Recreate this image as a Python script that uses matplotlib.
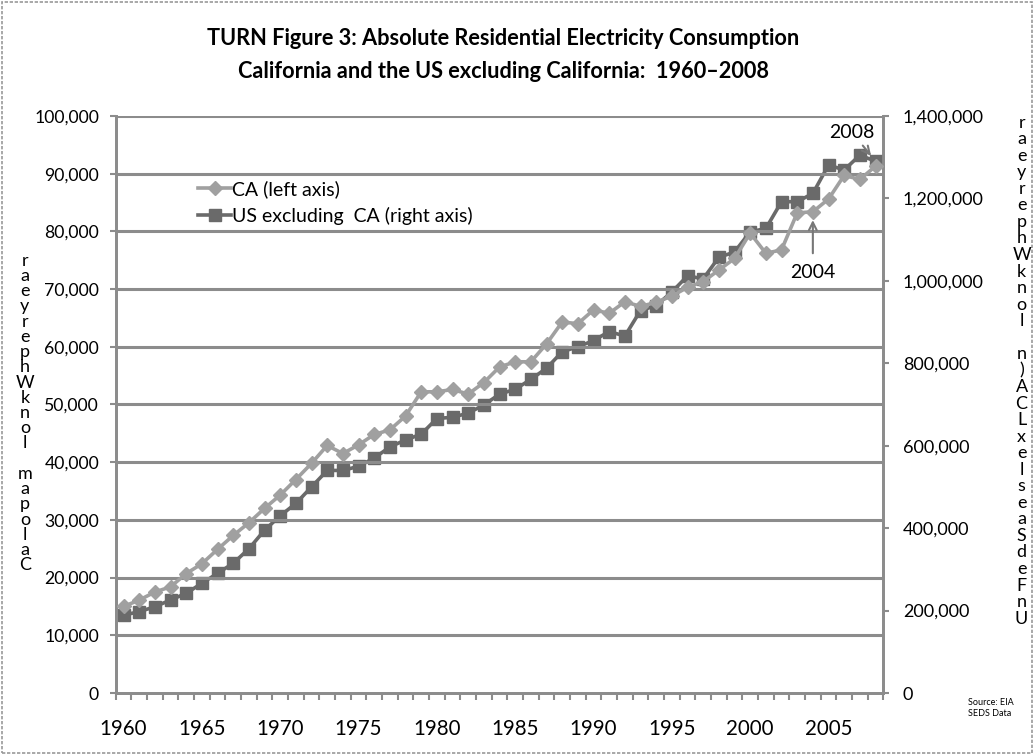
import numpy as np
import matplotlib
matplotlib.use("Agg")
import matplotlib.pyplot as plt
from matplotlib.lines import Line2D
from matplotlib.patches import Rectangle

# DATA
years = list(range(1960, 2009))
ca_gwh = [15000, 16100, 17500, 18400, 20700, 22400, 24900, 27300, 29500, 32000,
          34300, 37000, 39800, 42900, 41500, 43000, 44800, 45600, 48000, 52200,
          52200, 52600, 51800, 53800, 56500, 57400, 57400, 60500, 64300, 64000,
          66400, 65800, 67800, 67000, 67700, 68800, 70300, 71300, 73300, 75300,
          79700, 76200, 76800, 83200, 83400, 85600, 89700, 89000, 91300]
us_ex_ca = [189000, 197300, 209400, 225600, 241900, 266200, 290400, 314700, 350000, 395000,
            430000, 460000, 500000, 540000, 540000, 550000, 570000, 597000, 614000, 628000,
            666000, 669000, 679000, 699000, 725000, 737000, 761000, 788000, 828000, 840000,
            855000, 877000, 866000, 928000, 940000, 973000, 1012000, 1005000, 1057000, 1070000,
            1119000, 1127000, 1192000, 1192000, 1212000, 1281000, 1269000, 1305000, 1290000]
xtick_years = [1960, 1965, 1970, 1975, 1980, 1985, 1990, 1995, 2000, 2005]
left_ticks = list(range(0, 100001, 10000))
right_ticks = list(range(0, 1400001, 200000))

TITLE = ("TURN Figure 3: Absolute Residential Electricity Consumption\n"
         "California and the US excluding California:  1960\u20132008")
LEFT_STACK = "raeyrephWknol mapolaC"
RIGHT_STACK = "raeyrephWknol n)ACLxelseaSdeFnU"

FONT = "Lato"
GRID = "#8c8c8c"
CA_COL = "#a0a0a0"
US_COL = "#6a6a6a"

plt.rcParams['font.family'] = [FONT, 'DejaVu Sans']

fig = plt.figure(figsize=(10.34, 7.55), dpi=100)
ax = fig.add_axes([0.1119, 0.0821, 0.7424, 0.7643])
ax2 = ax.twinx()

# gridlines (left axis)
for v in left_ticks[1:]:
    ax.axhline(v, color=GRID, lw=2.2, zorder=0)

ax.plot(years, ca_gwh, color=CA_COL, lw=2.6, marker='D', ms=7.5,
        mfc=CA_COL, mec=CA_COL, zorder=3)
ax2.plot(years, us_ex_ca, color=US_COL, lw=2.6, marker='s', ms=9,
         mfc=US_COL, mec=US_COL, zorder=3)

ax.set_xlim(1959.5, 2008.5)
ax.set_ylim(0, 100000)
ax2.set_ylim(0, 1400000)

ax.set_xticks(xtick_years)
ax.set_xticks(np.arange(1959.5, 2009, 1), minor=True)
ax.set_yticks(left_ticks)
ax.set_yticklabels([f"{v:,}" for v in left_ticks])
ax2.set_yticks(right_ticks)
ax2.set_yticklabels([f"{v:,}" for v in right_ticks])

ax.tick_params(axis='x', which='major', length=0, pad=19, labelsize=14.8)
ax.tick_params(axis='x', which='minor', length=5, width=1.5, color=GRID)
ax.tick_params(axis='y', length=4, width=1.5, color=GRID, pad=8, labelsize=12.7)
ax2.tick_params(axis='y', length=4, width=1.5, color=GRID, pad=10, labelsize=13)

for a in (ax, ax2):
    a.spines['top'].set_visible(False)
    a.spines['left'].set_color(GRID)
    a.spines['right'].set_color(GRID)
    a.spines['bottom'].set_color(GRID)
    for s in a.spines.values():
        s.set_linewidth(2)
ax.set_zorder(ax2.get_zorder() + 1)
ax.patch.set_visible(False)

# annotations
ax2.annotate('2008', xy=(2008, us_ex_ca[-1]), xytext=(-17, 21),
             textcoords='offset points', ha='center', va='center', fontsize=14,
             arrowprops=dict(arrowstyle='->', color='#777777', lw=1.5,
                             shrinkA=2, shrinkB=5))
ax.annotate('2004', xy=(2004, ca_gwh[44]), xytext=(0, -44),
            textcoords='offset points', ha='center', va='center', fontsize=14,
            arrowprops=dict(arrowstyle='->', color='#777777', lw=1.5,
                            shrinkA=6, shrinkB=6))

# legend
handles = [Line2D([], [], color=CA_COL, lw=2.6, marker='D', ms=7.5),
           Line2D([], [], color=US_COL, lw=2.6, marker='s', ms=9)]
fig.legend(handles, ['CA (left axis)', 'US excluding  CA (right axis)'],
           loc='upper left', bbox_to_anchor=(0.184, 0.772), frameon=False,
           fontsize=14, handlelength=1.7, handletextpad=0.05, labelspacing=0.45,
           borderaxespad=0)

# title
fig.text(0.487, 0.927, TITLE, ha='center', va='center', fontsize=15.7,
         fontweight='bold', linespacing=1.75)

# stacked axis labels
fig.text(0.024, 0.453, "\n".join(LEFT_STACK), ha='center', va='center',
         fontsize=13, linespacing=0.94)
fig.text(0.988, 0.509, "\n".join(RIGHT_STACK), ha='center', va='center',
         fontsize=13, linespacing=1.04)

fig.text(0.936, 0.062, "Source: EIA\nSEDS Data", ha='left', va='center',
         fontsize=6.5, linespacing=1.3)

# outer border
fig.patches.append(Rectangle((0.002, 0.002), 0.996, 0.995, transform=fig.transFigure,
                             fill=False, edgecolor='#999999', lw=1.2, ls=(0, (2, 1))))

fig.savefig("out.png", dpi=100)
